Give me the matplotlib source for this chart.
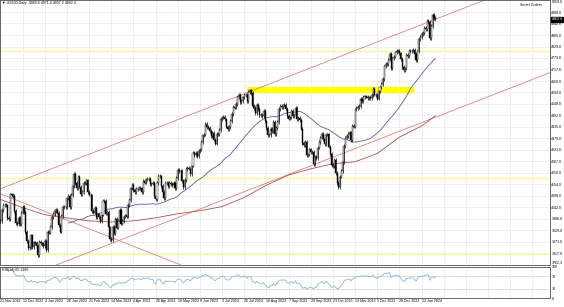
import numpy as np
import pandas as pd
import matplotlib.pyplot as plt
from matplotlib.patches import Rectangle

# daily closes, US500 CFD, 21 Nov 2022 .. 6 Feb 2024
closes = [
    # Nov 2022
    3974, 4028, 4052, 4055, 4051, 3989, 3983, 4105,
    # Dec 2022
    4101, 4097, 4024, 3966, 3959, 3988, 3959, 4016, 4044, 4020, 3921, 3877,
    3843, 3846, 3904, 3848, 3870, 3868, 3854, 3808, 3874, 3865,
    # Jan 2023
    3862, 3850, 3878, 3833, 3920, 3918, 3944, 3995, 4008, 4024, 4027, 4016,
    3954, 3923, 3998, 4045, 4042, 4041, 4085, 4096, 4043, 4102,
    # Feb 2023
    4144, 4205, 4161, 4136, 4189, 4143, 4107, 4115, 4162, 4161, 4173, 4115,
    4104, 4100, 4022, 4016, 4037, 3995, 4007, 3995,
    # Mar 2023
    3976, 4006, 4071, 4073, 4011, 4017, 3943, 3887, 3880, 3945, 3917, 3985,
    3942, 3976, 4028, 3962, 3973, 3996, 4002, 3996, 4053, 4076, 4134,
    # Apr 2023
    4150, 4126, 4116, 4130, 4133, 4135, 4134, 4117, 4171, 4163, 4177, 4180,
    4180, 4155, 4158, 4163, 4097, 4081, 4161, 4194,
    # May 2023
    4193, 4145, 4116, 4086, 4161, 4163, 4144, 4163, 4156, 4149, 4161, 4135,
    4184, 4223, 4217, 4218, 4171, 4141, 4176, 4230, 4236, 4231, 4205,
    # Jun 2023
    4246, 4307, 4299, 4308, 4293, 4319, 4324, 4363, 4394, 4398, 4451, 4435,
    4432, 4414, 4391, 4407, 4373, 4354, 4403, 4402, 4421, 4475,
    # Jul 2023
    4481, 4483, 4472, 4437, 4424, 4435, 4465, 4498, 4535, 4530, 4547, 4580,
    4591, 4559, 4561, 4580, 4592, 4591, 4563, 4607, 4614,
    # Aug 2023
    4602, 4538, 4527, 4503, 4543, 4524, 4493, 4494, 4489, 4515, 4462, 4429,
    4395, 4395, 4425, 4413, 4461, 4401, 4431, 4458, 4523, 4540, 4533,
    # Sep 2023
    4541, 4545, 4522, 4490, 4476, 4482, 4512, 4487, 4492, 4530, 4475, 4478,
    4469, 4427, 4355, 4345, 4362, 4299, 4300, 4325, 4313,
    # Oct 2023
    4313, 4254, 4288, 4283, 4334, 4361, 4383, 4402, 4374, 4353, 4398, 4399,
    4339, 4303, 4249, 4242, 4273, 4211, 4162, 4142, 4192, 4219,
    # Nov 2023
    4263, 4343, 4383, 4391, 4403, 4408, 4372, 4440, 4437, 4521, 4527, 4534,
    4539, 4572, 4563, 4582, 4585, 4584, 4576, 4580, 4576, 4593,
    # Dec 2023
    4620, 4594, 4592, 4574, 4610, 4629, 4647, 4669, 4732, 4745, 4744, 4765,
    4793, 4723, 4771, 4780, 4800, 4807, 4808, 4795,
    # Jan 2024
    4768, 4730, 4714, 4722, 4789, 4782, 4808, 4805, 4809, 4812, 4791, 4764,
    4805, 4865, 4876, 4890, 4894, 4919, 4916, 4953, 4950, 4871,
    # Feb 2024
    4931, 4984, 4968, 4962.4,
]

date_labels = ["21 Nov 2022", "12 Dec 2022", "4 Jan 2023", "26 Jan 2023",
               "21 Feb 2023", "14 Mar 2023", "4 Apr 2023", "26 Apr 2023",
               "18 May 2023", "9 Jun 2023", "3 Jul 2023", "26 Jul 2023",
               "16 Aug 2023", "7 Sep 2023", "29 Sep 2023", "23 Oct 2023",
               "13 Nov 2023", "5 Dec 2023", "28 Dec 2023", "22 Jan 2024"]

price_ticks = [3817.0, 3873.0, 3929.0, 3986.0, 4042.0, 4098.0, 4154.0, 4210.0,
               4267.0, 4323.0, 4379.0, 4435.0, 4492.0, 4548.0, 4604.0, 4660.0,
               4717.0, 4773.0, 4829.0, 4885.0, 4942.0, 4998.0]

# 200 period MA, read every 16 bars
ma200_idx = [0, 16, 32, 48, 64, 80, 96, 112, 128, 144, 160, 176, 192, 208,
             224, 240, 256, 272, 288, 304, 314]
ma200_val = [4080, 4040, 4005, 3990, 3975, 3970, 3975, 3990, 4010, 4025, 4045,
             4090, 4150, 4200, 4230, 4255, 4265, 4305, 4385, 4440, 4490]

support_levels = [4805, 4185, 3812]
zone = (4608, 4632)
zone_bars = (178, 298)

# trend lines (bar, price)
upper_channel = [(-1, 4130), (400, 5190)]
lower_channel = [(-1, 3650), (400, 4710)]
down_line = [(-1, 4110), (130, 3760)]

c = pd.Series(closes, dtype=float)
o = c.shift(1).fillna(c.iloc[0])
hi = np.maximum(o, c) + 9
lo = np.minimum(o, c) - 9
ma50 = c.rolling(50).mean()

delta = c.diff()
gain = delta.clip(lower=0).ewm(alpha=1 / 14, adjust=False).mean()
loss = (-delta.clip(upper=0)).ewm(alpha=1 / 14, adjust=False).mean()
rsi = 100 - 100 / (1 + gain / loss)

plt.rcParams['font.family'] = ['Liberation Sans', 'DejaVu Sans']
fig = plt.figure(figsize=(5.64, 3.07), dpi=100)
ax = fig.add_axes([0, 1 - 265 / 307, 550 / 564, 265 / 307])
ax2 = fig.add_axes([0, 1 - 298 / 307, 550 / 564, 31 / 307])

xmin, xmax = -0.36, 396.75
x = np.arange(len(c))
ticks = np.arange(0, 397, 16)

for a in (ax, ax2):
    a.set_xlim(xmin, xmax)
    a.set_xticks(ticks)
    a.tick_params(length=0, labelsize=2.6, pad=1)
    a.grid(True, color='#d4d4d4', linewidth=0.5, linestyle=(0, (1, 1)))
    a.set_axisbelow(True)
    for s in a.spines.values():
        s.set_color('#505050')
        s.set_linewidth(0.6)

ax.set_ylim(3759, 5057)
ax.set_yticks(price_ticks)
ax.yaxis.tick_right()
ax.set_yticklabels([f"{v:.1f}" for v in price_ticks])
ax.set_xticklabels([])

# levels
for lv in support_levels:
    ax.axhline(lv, color='#fafa9a', linewidth=1.0, zorder=1)
ax.add_patch(Rectangle((zone_bars[0], zone[0]), zone_bars[1] - zone_bars[0],
                       zone[1] - zone[0], color='#ffff00', zorder=1.5))

for ln in (upper_channel, lower_channel, down_line):
    ax.plot([ln[0][0], ln[1][0]], [ln[0][1], ln[1][1]], color='#e08080',
            linewidth=0.6, zorder=2)

ax.plot(ma200_idx, ma200_val, color='#b05050', linewidth=0.6, zorder=2)
ax.plot(x, ma50, color='#5a5aa8', linewidth=0.6, zorder=2)

# candles
ax.vlines(x, lo, hi, color='black', linewidth=0.5, zorder=3)
up = c >= o
ax.bar(x[up], (c - o)[up], bottom=o[up], width=0.75, color='white',
       edgecolor='black', linewidth=0.3, zorder=4)
ax.bar(x[~up], (o - c)[~up], bottom=c[~up], width=0.75, color='black',
       edgecolor='black', linewidth=0.3, zorder=4)

ax.text(0.003, 0.995, "\u25bc US500,Daily  4960.6 4971.0 4937.2 4962.4",
        transform=ax.transAxes, fontsize=2.6, va='top', ha='left')
ax.text(0.985, 0.99, "Smart Orders", transform=ax.transAxes, fontsize=2.6,
        va='top', ha='right')
ax.text(1.003, (closes[-1] - 3759) / (5057 - 3759), f"{closes[-1]:.1f}",
        transform=ax.transAxes, fontsize=2.6, va='center', ha='left',
        color='white', bbox=dict(boxstyle='square,pad=0.15', fc='black',
                                 ec='black'))
ax.text(1.003, 1.0, "5050.0", transform=ax.transAxes, fontsize=2.6,
        va='top', ha='left')
ax.text(1.003, 0.0, "3762.3", transform=ax.transAxes, fontsize=2.6,
        va='bottom', ha='left')

# RSI panel
ax2.set_ylim(0, 100)
ax2.plot(x, rsi, color='#8ab8d8', linewidth=0.6)
ax2.axhline(30, color='#b0b0b0', linewidth=0.4, linestyle=(0, (1, 1)))
ax2.axhline(70, color='#b0b0b0', linewidth=0.4, linestyle=(0, (1, 1)))
ax2.set_yticks([0, 30, 70, 100])
ax2.yaxis.tick_right()
ax2.set_xticklabels(date_labels + [""] * (len(ticks) - len(date_labels)),
                    ha='left')
ax2.text(0.003, 0.96, f"RSI(14) {rsi.iloc[-1]:.4f}", transform=ax2.transAxes,
         fontsize=2.6, va='top', ha='left')

fig.savefig("out.png", dpi=100)
